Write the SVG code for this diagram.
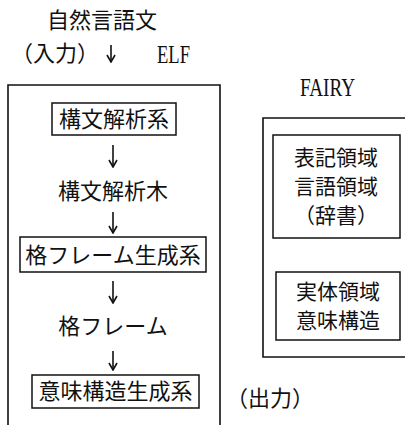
<svg xmlns="http://www.w3.org/2000/svg" width="405" height="425" viewBox="0 0 405 425">
<style>
.jp{font-family:"Noto Sans CJK JP","Noto Sans CJK SC",sans-serif;font-size:22px;fill:#111;}
.sm{font-size:21px;}
.mid{text-anchor:middle;}
.lat{font-family:"Liberation Serif",serif;font-size:25px;fill:#111;}
.frame{fill:none;stroke:#111;stroke-width:1.6;}
.box{fill:#fff;stroke:#111;stroke-width:1.5;}
.arr{fill:none;stroke:#111;stroke-width:1.6;marker-end:url(#ah);}
</style>
<defs>
<marker id="ah" viewBox="0 0 10 10" refX="9" refY="5" markerWidth="10" markerHeight="10" markerUnits="userSpaceOnUse" orient="auto">
<path d="M2,1 L9,5 L2,9" fill="none" stroke="#111" stroke-width="1.6"/>
</marker>
</defs>
<rect width="405" height="425" fill="#fff"/>
<g id="labels">
<text class="jp mid" x="102" y="28">自然言語文</text>
<text class="jp mid" x="55" y="61">（入力）</text>
<text class="lat" x="157" y="63" textLength="33" lengthAdjust="spacingAndGlyphs">ELF</text>
<text class="lat" x="300" y="96" textLength="55" lengthAdjust="spacingAndGlyphs">FAIRY</text>
<text class="jp mid" x="270" y="406">（出力）</text>
</g>
<g id="elf-frame"><path class="frame" d="M8,425 V85 H220 V425"/></g>
<g id="fairy-frame"><path class="frame" d="M410,118 H263 V357 H410"/></g>
<g id="connectors">
<path class="arr" d="M111,45 V62"/>
<path class="arr" d="M113,145 V167"/>
<path class="arr" d="M113,212 V233"/>
<path class="arr" d="M113,281 V303"/>
<path class="arr" d="M113,351 V370"/>
</g>
<g id="node-parser"><rect class="box" x="52" y="103" width="124" height="32"/><text class="jp mid" x="114" y="127">構文解析系</text></g>
<g id="node-parsetree"><text class="jp mid" x="113" y="199">構文解析木</text></g>
<g id="node-caseframe-gen"><rect class="box" x="20" y="237" width="186" height="35"/><text class="jp mid" x="113" y="263">格フレーム生成系</text></g>
<g id="node-caseframe"><text class="jp mid" x="113" y="334">格フレーム</text></g>
<g id="node-semantic-gen"><rect class="box" x="32" y="375" width="167" height="33"/><text class="jp mid" x="115.5" y="399">意味構造生成系</text></g>
<g id="node-lexicon"><rect class="box" x="273" y="135" width="127" height="103"/>
<text class="jp sm mid" x="336" y="165">表記領域</text>
<text class="jp sm mid" x="336" y="194">言語領域</text>
<text class="jp sm mid" x="336" y="223">（辞書）</text></g>
<g id="node-entity"><rect class="box" x="276" y="272" width="124" height="68"/>
<text class="jp sm mid" x="338" y="299">実体領域</text>
<text class="jp sm mid" x="338" y="328">意味構造</text></g>
</svg>
